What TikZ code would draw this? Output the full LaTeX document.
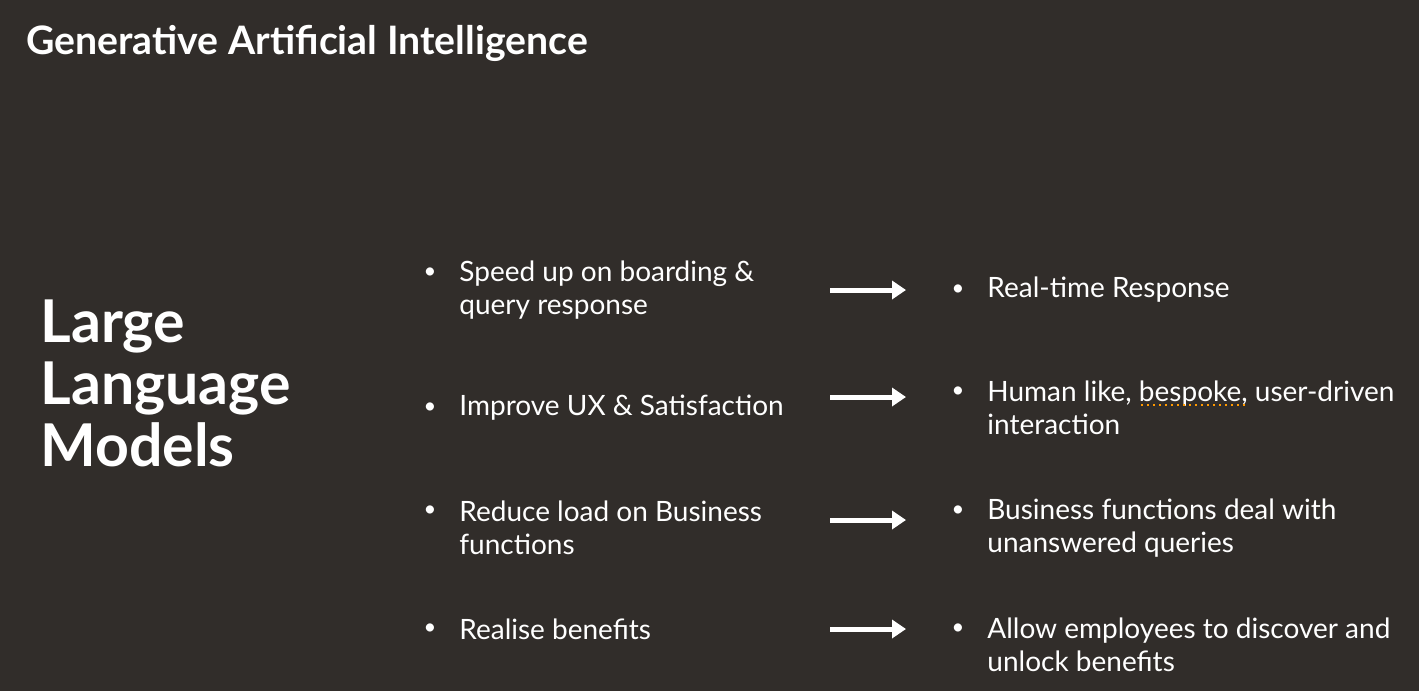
\documentclass[tikz,border=0pt]{standalone}
\usepackage{fontspec}
\setmainfont{Lato}
\usetikzlibrary{arrows.meta}
\definecolor{bg}{HTML}{312D2A}
\begin{document}
\begin{tikzpicture}[x=0.5pt,y=-0.5pt,
  txt/.style={text=white,font=\fontsize{14}{16.5}\selectfont,anchor=west,align=left,inner sep=0pt},
  bul/.style={text=white,font=\fontsize{11}{13}\selectfont,anchor=center,inner sep=0pt},
  arr/.style={draw=white,line width=2.5pt,-{Triangle[length=7pt,width=9pt]}}]
\fill[bg] (0,0) rectangle (1419,691);
\useasboundingbox (0,0) rectangle (1419,691);
\node[anchor=west,text=white,inner sep=0pt,font=\fontsize{19.6}{22}\selectfont\bfseries] (title) at (26,43) {Generative Artificial Intelligence};
\node[anchor=west,text=white,inner sep=0pt,align=left,font=\fontsize{29.5}{31}\selectfont\bfseries] (llm) at (40,383) {Large\\Language\\Models};
\foreach \y/\ry/\ay/\l/\r [count=\i] in {
  290/290/290/{Speed up on boarding \&\\query response}/{Real-time Response},
  408/408/397/{Improve UX \& Satisfaction}/{Human like, bespoke, user-driven\\interaction},
  528/528/520/{Reduce load on Business\\functions}/{Business functions deal with\\unanswered queries},
  629/645/629/{Realise benefits}/{Allow employees to discover and\\unlock benefits}}{
  \node[txt] (l\i) at (459,\y) {\l};
  \node[txt] (r\i) at (987,\ry) {\r};
  \coordinate (a\i) at (830,\ay);
  \coordinate (b\i) at (906,\ay);
  \draw[arr] (a\i) -- (b\i);
}
\node[bul] (lb1) at (430,273) {•};
\node[bul] (lb2) at (430,408) {•};
\node[bul] (lb3) at (430,511) {•};
\node[bul] (lb4) at (430,629) {•};
\node[bul] (rb1) at (958,290) {•};
\node[bul] (rb2) at (958,392) {•};
\node[bul] (rb3) at (958,511) {•};
\node[bul] (rb4) at (958,629) {•};
\coordinate (u1) at (1141,405); \coordinate (u2) at (1245,405);
\draw[orange!80!yellow,dotted,line width=1pt] (u1) -- (u2);
\end{tikzpicture}
\end{document}
